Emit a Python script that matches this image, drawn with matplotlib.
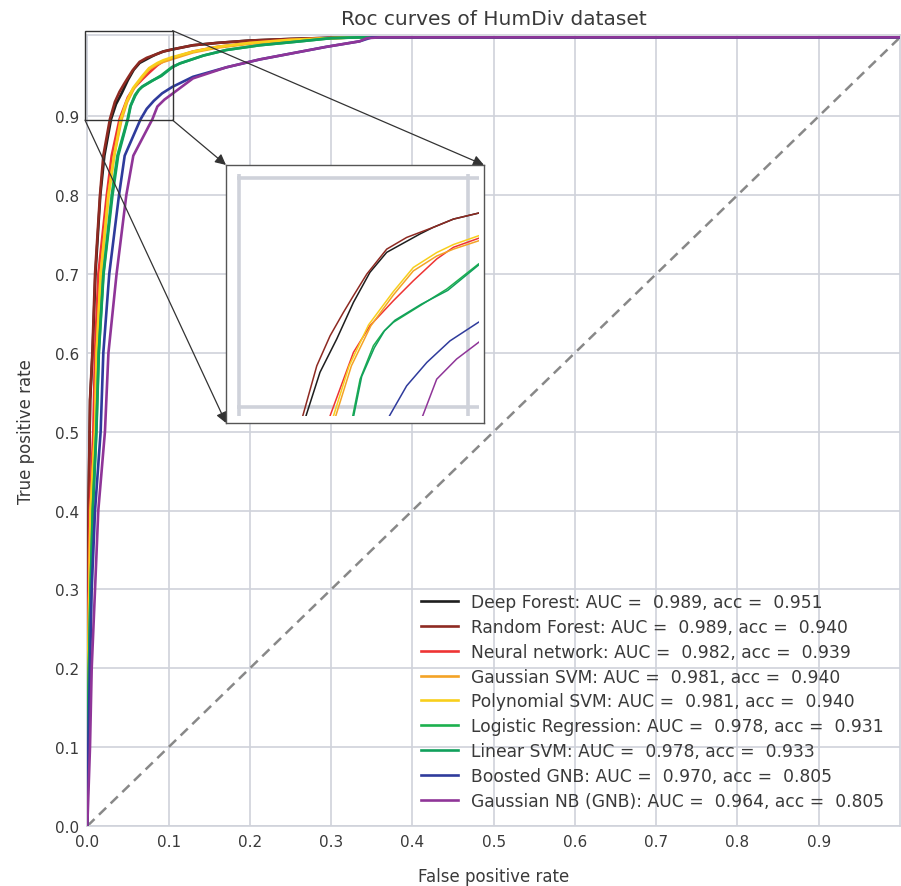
"""ROC curves of HumDiv dataset with zoomed inset"""
import matplotlib
matplotlib.use('Agg')
import matplotlib.pyplot as plt
from matplotlib.patches import Rectangle

plt.rcParams['font.family'] = ['DejaVu Sans']

# ---- data ----
labels = [
    'Deep Forest: AUC =  0.989, acc =  0.951',
    'Random Forest: AUC =  0.989, acc =  0.940',
    'Neural network: AUC =  0.982, acc =  0.939',
    'Gaussian SVM: AUC =  0.981, acc =  0.940',
    'Polynomial SVM: AUC =  0.981, acc =  0.940',
    'Logistic Regression: AUC =  0.978, acc =  0.931',
    'Linear SVM: AUC =  0.978, acc =  0.933',
    'Boosted GNB: AUC =  0.970, acc =  0.805',
    'Gaussian NB (GNB): AUC =  0.964, acc =  0.805',
]
colors = ['#1e1e1e', '#8e2a22', '#ee3434', '#f4a326', '#f8cf1c',
          '#1cb04e', '#11a05c', '#2f3b9c', '#8f3598']

deep_forest_fpr = [0, 0.0005, 0.0015, 0.0035, 0.0065, 0.010, 0.016, 0.021, 0.0292, 0.0353, 0.0426,
                   0.0499, 0.0571, 0.0644, 0.0789, 0.0847, 0.0935, 0.1044, 0.13, 0.16, 0.20, 0.25, 0.30, 0.34, 1.0]
deep_forest_tpr = [0, 0.20, 0.40, 0.54, 0.60, 0.70, 0.80, 0.85, 0.8963, 0.9153, 0.9298,
                   0.9458, 0.9589, 0.9676, 0.9756, 0.9785, 0.9821, 0.9847, 0.990, 0.993, 0.996, 0.998, 0.9995, 1.0, 1.0]

random_forest_fpr = [0, 0.0005, 0.0015, 0.0033, 0.0062, 0.0095, 0.0156, 0.0197, 0.0278, 0.0339, 0.0397,
                     0.0455, 0.0499, 0.0557, 0.0644, 0.0731, 0.0847, 0.0935, 0.1044, 0.13, 0.16, 0.20, 0.25, 0.30, 0.34, 1.0]
random_forest_tpr = [0, 0.20, 0.40, 0.54, 0.60, 0.70, 0.80, 0.85, 0.8963, 0.9181, 0.9312,
                     0.9414, 0.9487, 0.9581, 0.9690, 0.9741, 0.9785, 0.9821, 0.9847, 0.990, 0.993, 0.996, 0.998, 0.9995, 1.0, 1.0]

neural_net_fpr = [0, 0.001, 0.003, 0.0074, 0.0095, 0.0136, 0.024, 0.030, 0.0397, 0.0440, 0.0499, 0.0571,
                  0.0673, 0.0760, 0.0862, 0.0935, 0.1044, 0.13, 0.16, 0.20, 0.25, 0.30, 0.33, 1.0]
neural_net_tpr = [0, 0.25, 0.40, 0.50, 0.60, 0.70, 0.80, 0.85, 0.8963, 0.9080, 0.9240, 0.9356,
                  0.9465, 0.9552, 0.9647, 0.9698, 0.9737, 0.982, 0.988, 0.993, 0.997, 0.999, 1.0, 1.0]

gauss_svm_fpr = [0, 0.001, 0.004, 0.0095, 0.0115, 0.0165, 0.026, 0.033, 0.0422, 0.0490, 0.0575, 0.0673,
                 0.0760, 0.0862, 0.0935, 0.1044, 0.13, 0.16, 0.20, 0.25, 0.30, 0.33, 1.0]
gauss_svm_tpr = [0, 0.20, 0.40, 0.50, 0.60, 0.70, 0.80, 0.85, 0.8963, 0.9181, 0.9356, 0.9490,
                 0.9595, 0.9660, 0.9690, 0.9726, 0.981, 0.987, 0.992, 0.996, 0.999, 1.0, 1.0]

poly_svm_fpr = [0, 0.001, 0.004, 0.0095, 0.0115, 0.0165, 0.026, 0.033, 0.0412, 0.0480, 0.0565, 0.0673,
                0.0760, 0.0862, 0.0935, 0.1044, 0.13, 0.16, 0.20, 0.25, 0.30, 0.33, 1.0]
poly_svm_tpr = [0, 0.20, 0.40, 0.50, 0.60, 0.70, 0.80, 0.85, 0.8963, 0.9181, 0.9360, 0.9505,
                0.9610, 0.9675, 0.9710, 0.9748, 0.982, 0.988, 0.993, 0.997, 0.999, 1.0, 1.0]

logreg_fpr = [0, 0.0005, 0.002, 0.004, 0.0066, 0.0110, 0.0140, 0.0197, 0.030, 0.037, 0.0496, 0.0528,
              0.0586, 0.0630, 0.0673, 0.0789, 0.0906, 0.1044, 0.114, 0.143, 0.171, 0.212, 0.262, 0.30, 0.335, 1.0]
logreg_tpr = [0, 0.10, 0.20, 0.30, 0.40, 0.50, 0.60, 0.70, 0.80, 0.85, 0.8963, 0.9123,
              0.9269, 0.9330, 0.9371, 0.9443, 0.9516, 0.9625, 0.967, 0.977, 0.984, 0.990, 0.995, 0.999, 1.0, 1.0]

linear_svm_fpr = [0, 0.0005, 0.002, 0.004, 0.0068, 0.0112, 0.0142, 0.0200, 0.031, 0.038, 0.0500, 0.0535,
                  0.0590, 0.0635, 0.0680, 0.0795, 0.0910, 0.1044, 0.114, 0.143, 0.171, 0.212, 0.262, 0.30, 0.335, 1.0]
linear_svm_tpr = [0, 0.10, 0.20, 0.30, 0.40, 0.50, 0.60, 0.70, 0.80, 0.85, 0.8963, 0.9135,
                  0.9260, 0.9335, 0.9380, 0.9450, 0.9510, 0.9620, 0.967, 0.977, 0.984, 0.990, 0.995, 0.999, 1.0, 1.0]

boosted_gnb_fpr = [0, 0.0012, 0.0033, 0.0054, 0.0095, 0.0164, 0.0197, 0.027, 0.039, 0.046, 0.0656, 0.0731,
                   0.0819, 0.0920, 0.1044, 0.13, 0.171, 0.212, 0.253, 0.294, 0.335, 0.35, 1.0]
boosted_gnb_tpr = [0, 0.10, 0.20, 0.30, 0.40, 0.50, 0.60, 0.70, 0.80, 0.85, 0.8963, 0.9094,
                   0.9196, 0.9290, 0.9371, 0.950, 0.962, 0.972, 0.980, 0.988, 0.995, 1.0, 1.0]

gauss_nb_fpr = [0, 0.0033, 0.0054, 0.0095, 0.0135, 0.0217, 0.026, 0.036, 0.048, 0.0566, 0.0801, 0.0862,
                0.0949, 0.1044, 0.13, 0.171, 0.212, 0.253, 0.294, 0.335, 0.344, 0.36, 1.0]
gauss_nb_tpr = [0, 0.10, 0.20, 0.30, 0.40, 0.50, 0.60, 0.70, 0.80, 0.85, 0.8963, 0.9123,
                0.9211, 0.9283, 0.948, 0.962, 0.972, 0.980, 0.988, 0.995, 0.999, 1.0, 1.0]

chance_fpr = [0, 1]
chance_tpr = [0, 1]

curves = [
    (deep_forest_fpr, deep_forest_tpr),
    (random_forest_fpr, random_forest_tpr),
    (neural_net_fpr, neural_net_tpr),
    (gauss_svm_fpr, gauss_svm_tpr),
    (poly_svm_fpr, poly_svm_tpr),
    (logreg_fpr, logreg_tpr),
    (linear_svm_fpr, linear_svm_tpr),
    (boosted_gnb_fpr, boosted_gnb_tpr),
    (gauss_nb_fpr, gauss_nb_tpr),
]

ticks = [0.0, 0.1, 0.2, 0.3, 0.4, 0.5, 0.6, 0.7, 0.8, 0.9]

GRID = '#cfd2da'
TEXT = '#3a3a3a'

fig = plt.figure(figsize=(9.01, 8.87), dpi=100)
ax = fig.add_axes([0.0969, 0.0676, 0.902, 0.8918])

# main ROC curves
for (fpr, tpr), c, lab in zip(curves, colors, labels):
    ax.plot(fpr, tpr, color=c, lw=1.9, label=lab, zorder=3)
ax.plot(chance_fpr, chance_tpr, color='#888888', lw=1.8, ls='--', dashes=(4, 2.5), zorder=2)

ax.set_xlim(0, 1.0)
ax.set_ylim(0, 1.003)
ax.set_xticks(ticks)
ax.set_yticks(ticks)
ax.set_xticklabels([f'{t:.1f}' for t in ticks])
ax.set_yticklabels([f'{t:.1f}' for t in ticks])
ax.tick_params(length=0, labelsize=11, labelcolor=TEXT, pad=6)
ax.grid(color=GRID, lw=1.2, zorder=0)
ax.set_axisbelow(True)
for s in ax.spines.values():
    s.set_color(GRID)
    s.set_linewidth(1.2)
ax.set_title('Roc curves of HumDiv dataset', fontsize=14.5, color=TEXT, pad=8)
ax.set_xlabel('False positive rate', fontsize=12, color=TEXT, labelpad=13)
ax.set_ylabel('True positive rate', fontsize=12, color=TEXT, labelpad=14)

leg = ax.legend(loc='lower right', frameon=False, fontsize=12.3, labelspacing=0.4,
                handlelength=2.15, handletextpad=0.75, borderaxespad=0.55)
for t in leg.get_texts():
    t.set_color(TEXT)

# box marking the zoomed region
ax.add_patch(Rectangle((-0.0028, 0.895), 0.1078, 0.1135, fill=False, ec='#333333',
                       lw=1.0, clip_on=False, zorder=5))

# inset axes
axins = fig.add_axes([0.2508, 0.522, 0.2863, 0.2909])
axins.set_xlim(-0.0057, 0.1068)
axins.set_ylim(0.8932, 1.0057)
axins.set_xticks([])
axins.set_yticks([])
for s in axins.spines.values():
    s.set_color('#555555')
    s.set_linewidth(1.0)

# thick grid lines in the inset
axins.vlines([0.0, 0.1], 0.8963, 1.0017, color=GRID, lw=2.6, zorder=1)
axins.hlines([0.9, 1.0], -0.001, 0.1048, color=GRID, lw=2.6, zorder=1)

clip = Rectangle((-0.001, 0.8963), 0.1055, 0.12, transform=axins.transData)
for (fpr, tpr), c in zip(curves, colors):
    ln, = axins.plot(fpr, tpr, color=c, lw=1.1, zorder=3)
    ln.set_clip_path(clip)

# arrows from the marked box to the inset
arrow = dict(arrowstyle='-|>', color='#333333', lw=0.9, shrinkA=0, shrinkB=0, mutation_scale=16)
ax.annotate('', xy=(1, 1), xycoords=axins.transAxes, xytext=(0.105, 1.0085),
            textcoords='data', arrowprops=arrow, annotation_clip=False)
ax.annotate('', xy=(0, 1), xycoords=axins.transAxes, xytext=(0.105, 0.895),
            textcoords='data', arrowprops=arrow, annotation_clip=False)
ax.annotate('', xy=(0, 0), xycoords=axins.transAxes, xytext=(-0.0028, 0.895),
            textcoords='data', arrowprops=arrow, annotation_clip=False)

fig.savefig('out.png', dpi=100)
plt.close(fig)
